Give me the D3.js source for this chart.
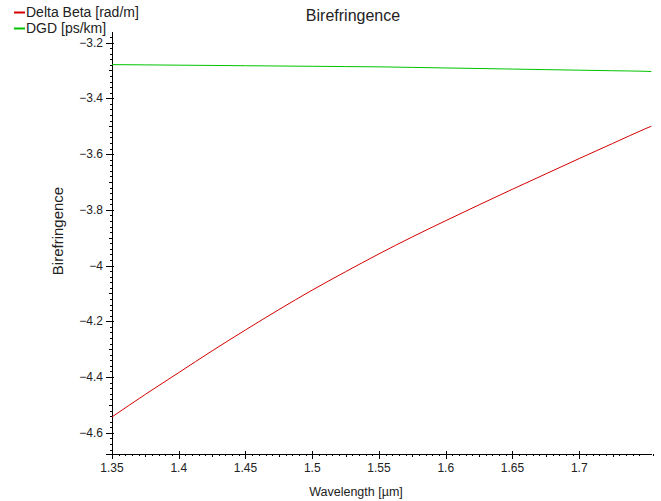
<!DOCTYPE html>
<html>
<head>
<meta charset="utf-8">
<script src="https://cdn.jsdelivr.net/npm/d3@7"></script>
<style>
  body { margin: 0; background: #fff; }
  svg text { font-family: "Liberation Sans", Arial, sans-serif; font-size: 12px; fill: #222; }
</style>
</head>
<body>
<div id="chart"></div>
<script>
// wavelength samples [µm]
var wavelength = [1.35, 1.375, 1.4, 1.425, 1.45, 1.475, 1.5, 1.525, 1.55, 1.575, 1.6, 1.625, 1.65, 1.675, 1.7, 1.725, 1.75, 1.754];
// Delta Beta [rad/m]
var deltaBeta = [-4.543, -4.462, -4.384, -4.306, -4.231, -4.158, -4.088, -4.022, -3.958, -3.897, -3.839, -3.782, -3.726, -3.671, -3.616, -3.562, -3.508, -3.500];
// DGD [ps/km]
var dgd = [-3.279, -3.280, -3.281, -3.282, -3.283, -3.284, -3.285, -3.286, -3.287, -3.289, -3.291, -3.293, -3.295, -3.297, -3.299, -3.301, -3.303, -3.304];

var seriesNames = ["Delta Beta [rad/m]", "DGD [ps/km]"];
var seriesColors = ["#d40000", "#00c400"];
var xTicks = [1.35, 1.4, 1.45, 1.5, 1.55, 1.6, 1.65, 1.7];
var yTicks = [-3.2, -3.4, -3.6, -3.8, -4, -4.2, -4.4, -4.6];

var width = 661, height = 501;
var plot = { left: 112, right: 652, top: 32, bottom: 454 };

var svg = d3.select("#chart").append("svg")
  .attr("width", width)
  .attr("height", height);

var x = d3.scaleLinear().domain([1.35, 1.7545]).range([plot.left, plot.right]);
var y = d3.scaleLinear().domain([-4.676, -3.162]).range([plot.bottom, plot.top]);

// minor ticks, every 1/10 of a major step; the middle one a bit longer
function minor(step, lo, hi) {
  var out = [];
  var n = Math.round((hi - lo) / step);
  for (var i = 0; i <= n; i++) {
    if (i % 10 === 0) continue;
    out.push({ v: lo + i * step, mid: i % 5 === 0 });
  }
  return out;
}

// x axis
var xAxis = svg.append("g").attr("transform", "translate(0," + plot.bottom + ")");
xAxis.append("line")
  .attr("x1", plot.left).attr("x2", plot.right)
  .attr("stroke", "#000").attr("shape-rendering", "crispEdges");
xAxis.selectAll(".minor").data(minor(0.005, 1.35, 1.755)).enter().append("line")
  .attr("x1", function(d){ return Math.round(x(d.v)) + 0.5; })
  .attr("x2", function(d){ return Math.round(x(d.v)) + 0.5; })
  .attr("y1", 0).attr("y2", function(d){ return d.mid ? 3 : 2; })
  .attr("stroke", "#000");
xAxis.selectAll(".major").data(xTicks).enter().append("line")
  .attr("x1", function(d){ return Math.round(x(d)) + 0.5; })
  .attr("x2", function(d){ return Math.round(x(d)) + 0.5; })
  .attr("y1", -3).attr("y2", 5)
  .attr("stroke", "#000");
xAxis.selectAll("text").data(xTicks).enter().append("text")
  .attr("x", function(d){ return x(d); })
  .attr("y", 18)
  .attr("text-anchor", "middle")
  .text(function(d){ return d3.format("")(d); });

// y axis
var yAxis = svg.append("g").attr("transform", "translate(" + plot.left + ",0)");
yAxis.append("line")
  .attr("y1", plot.top).attr("y2", plot.bottom)
  .attr("stroke", "#000").attr("shape-rendering", "crispEdges");
yAxis.selectAll(".minor").data(minor(0.02, -4.8, -3.0)).enter().append("line")
  .filter(function(d){ return y(d.v) >= plot.top && y(d.v) <= plot.bottom; })
  .attr("y1", function(d){ return Math.round(y(d.v)) + 0.5; })
  .attr("y2", function(d){ return Math.round(y(d.v)) + 0.5; })
  .attr("x1", 0).attr("x2", function(d){ return d.mid ? -3 : -2; })
  .attr("stroke", "#000");
yAxis.selectAll(".major").data(yTicks).enter().append("line")
  .attr("y1", function(d){ return Math.round(y(d)) + 0.5; })
  .attr("y2", function(d){ return Math.round(y(d)) + 0.5; })
  .attr("x1", -6).attr("x2", 2)
  .attr("stroke", "#000");
yAxis.selectAll("text").data(yTicks).enter().append("text")
  .attr("x", -9)
  .attr("y", function(d){ return y(d) + 4; })
  .attr("text-anchor", "end")
  .text(function(d){ return d3.format("")(d); });
// end tick at bottom-left corner
svg.append("line")
  .attr("x1", plot.left - 6).attr("x2", plot.left)
  .attr("y1", plot.bottom + 0.5).attr("y2", plot.bottom + 0.5)
  .attr("stroke", "#000");

// series
var line = d3.line()
  .x(function(d){ return x(d[0]); })
  .y(function(d){ return y(d[1]); })
  .curve(d3.curveMonotoneX);

[deltaBeta, dgd].forEach(function(vals, i){
  svg.append("path")
    .datum(wavelength.map(function(w, j){ return [w, vals[j]]; }))
    .attr("fill", "none")
    .attr("stroke", seriesColors[i])
    .attr("stroke-width", 1)
    .attr("d", line);
});

// legend
seriesNames.forEach(function(name, i){
  var ly = 12 + i * 16;
  svg.append("line")
    .attr("x1", 14).attr("x2", 25)
    .attr("y1", ly + 0.5).attr("y2", ly + 0.5)
    .attr("stroke", seriesColors[i]).attr("stroke-width", 2);
  svg.append("text")
    .attr("x", 26).attr("y", ly + 5)
    .style("font-size", "14px")
    .text(name);
});

// title and axis labels
svg.append("text")
  .attr("x", 353).attr("y", 21)
  .attr("text-anchor", "middle")
  .style("font-size", "16px")
  .text("Birefringence");

svg.append("text")
  .attr("x", 356).attr("y", 496)
  .attr("text-anchor", "middle")
  .style("font-size", "12.5px")
  .text("Wavelength [µm]");

svg.append("text")
  .attr("transform", "translate(63,231) rotate(-90)")
  .attr("text-anchor", "middle")
  .style("font-size", "15px")
  .text("Birefringence");
</script>
</body>
</html>
